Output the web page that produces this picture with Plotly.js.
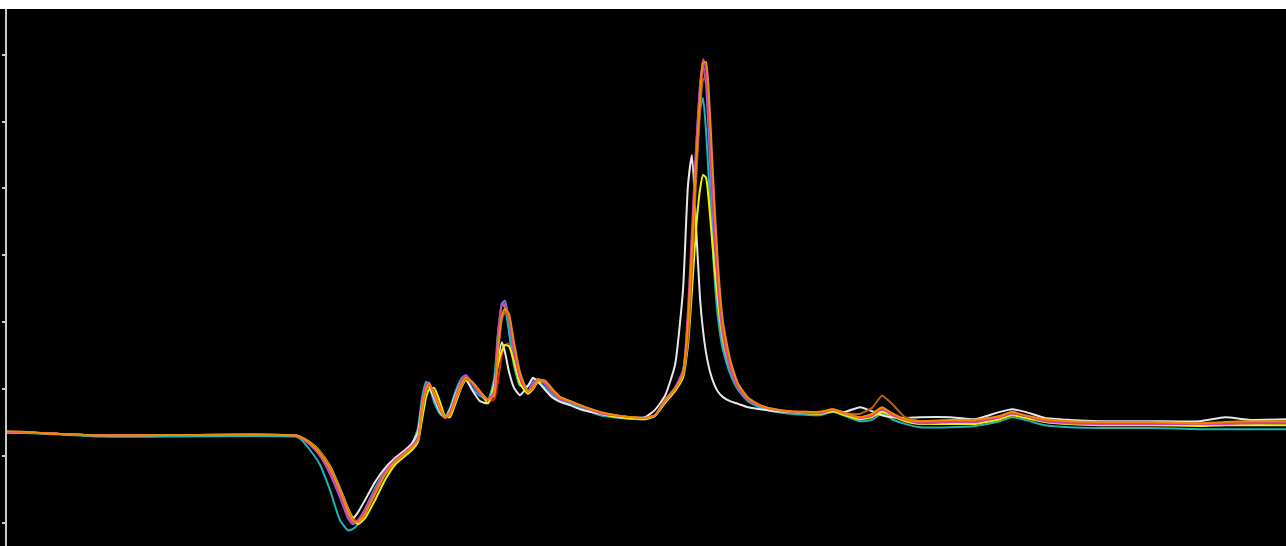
<!DOCTYPE html>
<html>
<head>
<meta charset="utf-8">
<script src="https://cdn.plot.ly/plotly-3.0.1.min.js"></script>
<style>
html,body{margin:0;padding:0;background:#000;overflow:hidden;}
#strip{width:1286px;height:9px;background:#fff;}
#chart{width:1286px;height:537px;}
</style>
</head>
<body>
<div id="strip"></div>
<div id="chart"></div>
<script>
// shared x positions (arbitrary units)
const xPos = [0.0, 2.3, 3.8, 5.3, 9.3, 28.8, 29.3, 30.3, 31.3, 32.3, 33.3, 34.1, 34.6, 35.1, 35.8, 36.8, 37.8, 38.8, 39.8, 40.5, 41.1, 41.5, 41.9, 42.2, 42.7, 43.3, 43.8, 44.3, 44.9, 45.5, 45.9, 46.5, 47.3, 48.1, 48.7, 49.1, 49.5, 49.8, 50.2, 50.7, 51.3, 52.1, 52.6, 53.1, 53.8, 54.5, 55.3, 56.3, 57.3, 59.3, 61.3, 63.8, 64.8, 65.8, 66.8, 67.6, 68.1, 68.5, 68.9, 69.3, 69.6, 69.9, 70.3, 70.7, 71.1, 71.6, 72.3, 73.1, 74.1, 75.3, 76.8, 78.3, 81.3, 82.6, 83.8, 85.3, 86.5, 87.5, 88.5, 89.8, 91.3, 94.3, 96.8, 99.3, 100.5, 101.8, 103.8, 106.3, 109.3, 114.3, 119.3, 121.8, 124.3, 127.9];

const magenta = [0.36,0.35,0.34,0.33,0.31,0.31,0.28,0.18,0.01,-0.24,-0.58,-0.90,-1.00,-0.96,-0.81,-0.51,-0.24,-0.06,0.06,0.15,0.27,0.76,1.05,1.09,0.91,0.69,0.57,0.66,0.91,1.14,1.20,1.09,0.94,0.84,0.96,1.81,2.26,2.27,2.06,1.58,1.17,0.96,1.06,1.15,1.09,0.96,0.85,0.81,0.75,0.64,0.60,0.57,0.61,0.84,1.02,1.26,2.20,3.40,4.60,5.50,5.93,5.80,4.90,3.60,2.50,1.80,1.32,1.02,0.84,0.75,0.69,0.66,0.64,0.69,0.63,0.57,0.60,0.71,0.61,0.54,0.49,0.51,0.51,0.58,0.64,0.60,0.52,0.49,0.48,0.48,0.48,0.48,0.49,0.51];

const cyan = [0.35,0.34,0.33,0.32,0.29,0.29,0.26,0.09,-0.13,-0.51,-0.96,-1.11,-1.09,-1.02,-0.81,-0.48,-0.22,-0.06,0.06,0.18,0.42,0.87,1.11,1.05,0.81,0.63,0.58,0.72,0.99,1.17,1.15,1.02,0.90,0.85,1.14,1.85,2.28,2.22,1.85,1.35,1.05,1.05,1.15,1.12,1.02,0.91,0.82,0.78,0.72,0.61,0.57,0.55,0.60,0.81,0.99,1.26,1.96,3.08,4.28,5.17,5.35,4.87,3.83,2.78,2.06,1.58,1.24,0.99,0.82,0.72,0.66,0.63,0.61,0.66,0.60,0.52,0.54,0.64,0.55,0.48,0.43,0.43,0.45,0.52,0.58,0.54,0.46,0.43,0.42,0.42,0.40,0.40,0.40,0.40];

const white = [0.36,0.35,0.34,0.33,0.31,0.31,0.28,0.19,0.04,-0.21,-0.55,-0.85,-0.93,-0.84,-0.66,-0.39,-0.18,-0.03,0.09,0.19,0.36,0.78,1.02,1.03,0.87,0.66,0.58,0.69,0.94,1.12,1.14,0.99,0.82,0.79,1.06,1.46,1.70,1.55,1.26,1.02,0.91,1.05,1.17,1.11,0.99,0.88,0.81,0.76,0.70,0.63,0.58,0.58,0.69,0.90,1.36,2.48,4.05,4.50,3.45,2.36,1.88,1.55,1.26,1.08,0.96,0.88,0.82,0.78,0.73,0.70,0.67,0.66,0.64,0.67,0.66,0.73,0.67,0.61,0.58,0.57,0.58,0.58,0.55,0.66,0.70,0.66,0.57,0.54,0.52,0.52,0.52,0.58,0.54,0.55];

const yellow = [0.35,0.35,0.34,0.33,0.31,0.31,0.29,0.21,0.07,-0.15,-0.48,-0.78,-0.93,-1.02,-0.93,-0.66,-0.36,-0.13,0.00,0.09,0.21,0.54,0.87,0.99,1.02,0.81,0.60,0.58,0.81,1.05,1.14,1.11,0.96,0.79,1.02,1.36,1.58,1.66,1.64,1.41,1.08,0.93,1.00,1.11,1.11,1.00,0.88,0.82,0.76,0.64,0.58,0.55,0.60,0.79,0.97,1.17,1.66,2.48,3.38,3.98,4.20,4.16,3.60,2.90,2.29,1.73,1.33,1.05,0.85,0.75,0.69,0.66,0.63,0.67,0.61,0.55,0.58,0.66,0.60,0.52,0.48,0.48,0.48,0.55,0.61,0.57,0.51,0.48,0.46,0.46,0.45,0.46,0.46,0.46];

const orange = [0.37,0.36,0.34,0.33,0.31,0.31,0.29,0.19,0.04,-0.19,-0.51,-0.82,-0.97,-0.99,-0.87,-0.57,-0.28,-0.09,0.04,0.13,0.24,0.69,0.99,1.08,0.94,0.72,0.57,0.63,0.87,1.09,1.17,1.11,0.96,0.84,0.90,1.60,2.10,2.20,2.12,1.70,1.25,0.96,1.02,1.14,1.12,1.00,0.88,0.82,0.76,0.66,0.60,0.57,0.61,0.82,1.00,1.23,2.00,3.10,4.35,5.35,5.87,5.89,5.10,3.90,2.85,2.00,1.45,1.08,0.87,0.76,0.70,0.67,0.66,0.70,0.64,0.58,0.63,0.73,0.64,0.55,0.52,0.54,0.54,0.60,0.66,0.61,0.55,0.52,0.51,0.51,0.49,0.51,0.52,0.52];

const brown = [0.36,0.35,0.34,0.33,0.31,0.31,0.29,0.20,0.06,-0.17,-0.49,-0.80,-0.95,-0.97,-0.85,-0.55,-0.27,-0.08,0.05,0.14,0.25,0.66,0.96,1.06,0.95,0.73,0.58,0.62,0.85,1.07,1.15,1.10,0.96,0.85,0.90,1.55,2.05,2.15,2.08,1.65,1.18,0.97,1.02,1.13,1.12,1.00,0.88,0.82,0.76,0.65,0.60,0.57,0.61,0.82,1.00,1.22,1.74,2.80,4.10,5.15,5.62,5.66,4.90,3.70,2.70,1.90,1.41,1.08,0.87,0.76,0.70,0.67,0.66,0.70,0.64,0.63,0.72,0.90,0.78,0.58,0.52,0.53,0.53,0.59,0.64,0.60,0.54,0.51,0.49,0.49,0.48,0.49,0.50,0.50];

const red = [0.36,0.35,0.34,0.33,0.31,0.31,0.28,0.19,0.04,-0.20,-0.53,-0.85,-0.98,-0.97,-0.84,-0.55,-0.27,-0.08,0.05,0.14,0.25,0.68,0.98,1.05,0.94,0.72,0.58,0.60,0.82,1.05,1.14,1.10,0.97,0.84,0.84,1.12,1.52,1.66,1.68,1.45,1.12,0.97,1.03,1.14,1.13,1.01,0.88,0.82,0.76,0.65,0.60,0.57,0.61,0.82,1.00,1.22,1.78,2.90,4.25,5.30,5.75,5.72,4.85,3.55,2.55,1.82,1.36,1.06,0.86,0.75,0.69,0.66,0.65,0.69,0.64,0.58,0.62,0.70,0.63,0.55,0.51,0.52,0.52,0.58,0.64,0.60,0.53,0.50,0.49,0.49,0.48,0.49,0.49,0.50];

const purple = [0.36,0.35,0.34,0.33,0.31,0.31,0.28,0.17,0.00,-0.27,-0.62,-0.93,-1.02,-0.96,-0.79,-0.49,-0.23,-0.05,0.07,0.16,0.30,0.80,1.08,1.10,0.90,0.68,0.57,0.68,0.94,1.17,1.21,1.08,0.93,0.84,1.00,1.80,2.28,2.32,2.00,1.48,1.12,0.98,1.10,1.15,1.07,0.95,0.84,0.80,0.74,0.63,0.59,0.56,0.61,0.84,1.02,1.28,1.95,3.20,4.55,5.55,5.85,5.55,4.40,3.05,2.20,1.62,1.25,1.00,0.83,0.74,0.68,0.65,0.63,0.68,0.62,0.56,0.59,0.68,0.60,0.53,0.48,0.50,0.50,0.57,0.63,0.59,0.51,0.48,0.47,0.47,0.47,0.47,0.48,0.49];

const yTicks = [-1, 0, 1, 2, 3, 4, 5, 6];

const seriesList = [
  {name: 'purple', y: purple, color: '#8a63f0'},
  {name: 'red', y: red, color: '#e8231c'},
  {name: 'cyan', y: cyan, color: '#1fb3b3'},
  {name: 'white', y: white, color: '#e8e8e8'},
  {name: 'yellow', y: yellow, color: '#f2ee00'},
  {name: 'brown', y: brown, color: '#b8600c'},
  {name: 'magenta', y: magenta, color: '#d83fa2'},
  {name: 'orange', y: orange, color: '#f08a00'}
];

const traces = seriesList.map(s => ({
  type: 'scatter', mode: 'lines', name: s.name,
  x: xPos, y: s.y,
  line: {color: s.color, width: 2, shape: 'spline', smoothing: 0.5},
  hoverinfo: 'skip'
}));

const layout = {
  width: 1286, height: 537,
  margin: {l: 7, r: 0, t: 0, b: 0, pad: 0},
  paper_bgcolor: '#000', plot_bgcolor: '#000',
  showlegend: false,
  xaxis: {range: [0, 127.9], visible: false, fixedrange: true},
  yaxis: {
    range: [-1.345, 6.682], tickmode: 'array', tickvals: yTicks,
    showticklabels: false, ticks: 'outside', ticklen: 3, tickwidth: 2, tickcolor: '#cfcfcf',
    showline: true, linecolor: '#c8c8c8', linewidth: 2,
    showgrid: false, zeroline: false, fixedrange: true
  }
};

Plotly.newPlot('chart', traces, layout, {staticPlot: true, displayModeBar: false});
</script>
</body>
</html>
